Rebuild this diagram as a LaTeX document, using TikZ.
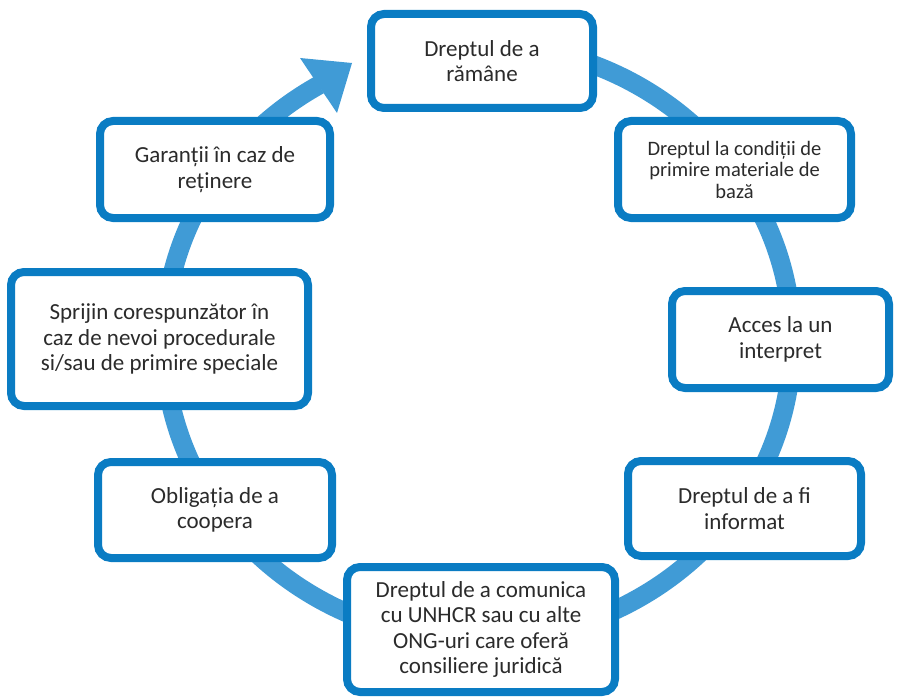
\documentclass[tikz,border=0pt]{standalone}
\usepackage{fontspec}
\setmainfont{Carlito}
\definecolor{bordercol}{HTML}{0A7CC3}
\definecolor{ringcol}{HTML}{409BD6}
\definecolor{textcol}{HTML}{2B2B2B}
\tikzset{
  box/.style={draw=bordercol, line width=8pt, fill=white, rounded corners=13pt,
    align=center, text=textcol, inner sep=0pt, font=\fontsize{23}{25.5}\selectfont},
  smallbox/.style={box, font=\fontsize{20.5}{21.5}\selectfont},
  ring/.style={draw=ringcol, line width=19pt},
}
\begin{document}
\begin{tikzpicture}[x=1pt,y=-1pt]
\useasboundingbox (0,0) rectangle (899,698);
% ring
\coordinate (rs) at (478,44);
\draw[ring] (rs) arc[start angle=-90, end angle=239.6, x radius=314, y radius=298] coordinate (re);
\coordinate (tip) at (352,63);
\coordinate (ca) at (300,58);
\coordinate (cb) at (337,113);
\fill[ringcol] (ca) -- (tip) -- (cb) -- cycle;
% boxes
\node[box, minimum width=222pt, minimum height=94pt] (n1) at (482,61) {Dreptul de a\\rămâne};
\node[smallbox, minimum width=233pt, minimum height=97pt] (n2) at (734.5,169.5) {Dreptul la condiții de\\primire materiale de\\bază};
\node[box, minimum width=217pt, minimum height=97pt] (n3) at (780.5,339.5) {Acces la un\\interpret};
\node[box, minimum width=233pt, minimum height=95pt] (n4) at (744.5,508.5) {Dreptul de a fi\\informat};
\node[box, minimum width=268pt, minimum height=125pt] (n5) at (481,629.5) {Dreptul de a comunica\\cu UNHCR sau cu alte\\ONG-uri care oferă\\consiliere juridică};
\node[box, minimum width=234pt, minimum height=96pt] (n6) at (215,510) {Obligația de a\\coopera};
\node[box, minimum width=297pt, minimum height=134pt] (n7) at (159.5,339) {Sprijin corespunzător în\\caz de nevoi procedurale\\si/sau de primire speciale};
\node[box, minimum width=230pt, minimum height=97pt] (n8) at (215,169.5) {Garanții în caz de\\reținere};
\end{tikzpicture}
\end{document}
